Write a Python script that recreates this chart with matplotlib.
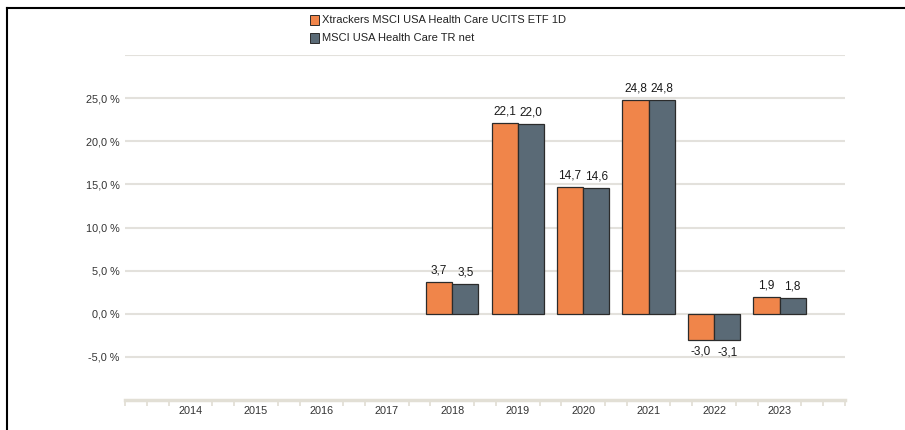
import numpy as np
import matplotlib.pyplot as plt
from matplotlib.lines import Line2D
from matplotlib.patches import Rectangle

plt.rcParams['font.family'] = ['Liberation Sans', 'DejaVu Sans']

years = ['2014', '2015', '2016', '2017', '2018', '2019', '2020', '2021', '2022', '2023']
etf_name = 'Xtrackers MSCI USA Health Care UCITS ETF 1D'
idx_name = 'MSCI USA Health Care TR net'
etf_vals = [np.nan, np.nan, np.nan, np.nan, 3.7, 22.1, 14.7, 24.8, -3.0, 1.9]
idx_vals = [np.nan, np.nan, np.nan, np.nan, 3.5, 22.0, 14.6, 24.8, -3.1, 1.8]

orange = '#f0854a'
slate = '#5a6a76'
grid_c = '#e3e1dc'
text_c = '#333333'

fig = plt.figure(figsize=(9.05, 4.30), dpi=100)
ax = fig.add_axes([125 / 905, 30 / 430, 720 / 905, 345 / 430])

x = np.arange(len(years))
w = 0.4
b1 = ax.bar(x - w / 2, etf_vals, w, color=orange, edgecolor='#2b2b2b', linewidth=0.9, zorder=3)
b2 = ax.bar(x + w / 2, idx_vals, w, color=slate, edgecolor='#2b2b2b', linewidth=0.9, zorder=3)

for bars, vals in [(b1, etf_vals), (b2, idx_vals)]:
    for rect, v in zip(bars, vals):
        if np.isnan(v):
            continue
        cx = rect.get_x() + rect.get_width() / 2
        lab = ('%.1f' % v).replace('.', ',')
        if v >= 0:
            ax.annotate(lab, (cx, v), xytext=(0, 4), textcoords='offset points',
                        ha='center', va='bottom', fontsize=8.5, color='#1a1a1a')
        else:
            ax.annotate(lab, (cx, v), xytext=(0, -4), textcoords='offset points',
                        ha='center', va='top', fontsize=8.5, color='#1a1a1a')

ax.set_xlim(-1, 10)
ax.set_ylim(-10, 30)

yt = np.arange(-5, 31, 5)
for v in yt:
    ax.axhline(v, color=grid_c, lw=1.5, zorder=1)
ax.set_yticks(yt[:-1])
ax.set_yticklabels([('%.1f %%' % v).replace('.', ',') for v in yt[:-1]], fontsize=7.8, color=text_c)
ax.tick_params(axis='y', length=0, pad=4)

ax.set_xticks(x)
ax.set_xticklabels(years, fontsize=7.8, color=text_c)
ax.tick_params(axis='x', length=0, pad=4)
minor = [k / 3 for k in range(-3, 31) if k % 3 != 0 or k in (-3, 30)]
ax.set_xticks(minor, minor=True)
ax.tick_params(axis='x', which='minor', length=4, width=1.2, color='#e0ddd3', direction='out')

for s in ['top', 'right', 'left']:
    ax.spines[s].set_visible(False)
ax.spines['bottom'].set_color('#e2dfd5')
ax.spines['bottom'].set_linewidth(2.5)

# legend at top centre
for i, (name, col) in enumerate([(etf_name, orange), (idx_name, slate)]):
    yy = 1 - (20 + 18 * i) / 430
    fig.patches.append(Rectangle((310 / 905, yy - 5 / 430), 9 / 905, 10 / 430,
                                 transform=fig.transFigure, facecolor=col,
                                 edgecolor='#2b2b2b', linewidth=0.7))
    fig.text(322 / 905, yy, name, fontsize=8, color='#222222', va='center', ha='left')

# outer frame
fig.lines.append(Line2D([7 / 905, 1], [1 - 8 / 430, 1 - 8 / 430], transform=fig.transFigure,
                        color='black', lw=1.5))
fig.lines.append(Line2D([7 / 905, 7 / 905], [0, 1 - 8 / 430], transform=fig.transFigure,
                        color='black', lw=1.5))

fig.savefig('out.png', dpi=100)
